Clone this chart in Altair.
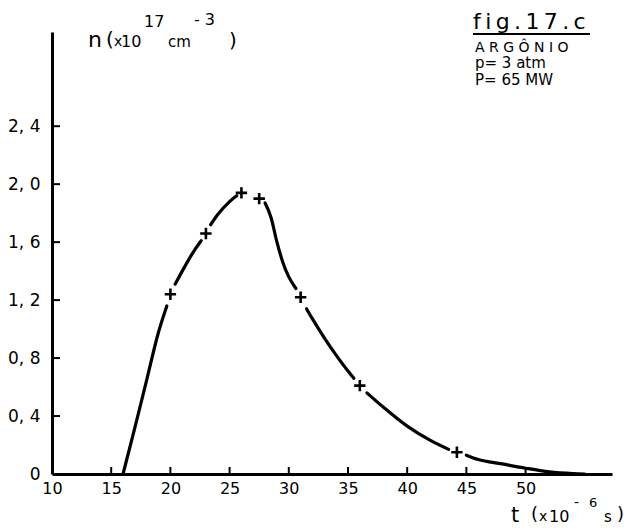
import altair as alt
import pandas as pd

# measured points (+ markers)
pt_t = [20, 23, 26, 27.5, 31, 36, 44.2]
pt_n = [1.24, 1.66, 1.94, 1.90, 1.22, 0.61, 0.15]

# hand-drawn curve, broken into pieces around the markers
curve_t = [16, 17, 18, 19, 19.7,
           20.4, 21, 22, 22.6,
           23.4, 24, 25, 25.6,
           28.0, 28.5, 29, 29.5, 30, 30.6,
           31.5, 32, 33, 34, 35, 35.5,
           36.6, 38, 40, 42, 43.5,
           45, 46, 48, 50, 52, 54, 55]
curve_n = [0, 0.32, 0.65, 0.98, 1.16,
           1.31, 1.40, 1.54, 1.61,
           1.72, 1.79, 1.88, 1.92,
           1.87, 1.77, 1.60, 1.46, 1.36, 1.28,
           1.14, 1.07, 0.94, 0.82, 0.71, 0.66,
           0.56, 0.46, 0.33, 0.23, 0.17,
           0.13, 0.10, 0.07, 0.04, 0.015, 0.003, 0]
curve_seg = [0]*5 + [1]*4 + [2]*4 + [3]*6 + [4]*6 + [5]*5 + [6]*7

x_ticks = [15, 20, 25, 30, 35, 40, 45, 50]
x_labels = [10, 15, 20, 25, 30, 35, 40, 45, 50]
y_ticks = [0.4, 0.8, 1.2, 1.6, 2.0, 2.4]
y_labels = [0, 0.4, 0.8, 1.2, 1.6, 2.0, 2.4]

W, H = 560, 442
L, T = 52, 32
FONT = "DejaVu Sans"
TS = "\u2009"  # thin space

xs = alt.Scale(domain=[10, 57.3], nice=False, zero=False)
ys = alt.Scale(domain=[0, 3.05], nice=False, zero=False)

curve_df = pd.DataFrame({"t": curve_t, "n": curve_n, "seg": curve_seg})
pt_df = pd.DataFrame({"t": pt_t, "n": pt_n})
xt_df = pd.DataFrame({"t": x_ticks})
yt_df = pd.DataFrame({"n": y_ticks})

xaxis = alt.Axis(values=x_labels, ticks=False, grid=False, title=None,
                 domainColor="black", domainWidth=3, labelFont=FONT,
                 labelFontSize=16, labelColor="black", labelPadding=6,
                 labelFlush=False, labelOverlap=False,
                 labelExpr="format(datum.value, 'd')")
yaxis = alt.Axis(values=y_labels, ticks=False, grid=False, title=None,
                 domainColor="black", domainWidth=3, labelFont=FONT,
                 labelFontSize=17, labelColor="black", labelPadding=12,
                 labelFlush=False, labelOverlap=False,
                 labelExpr="datum.value == 0 ? '0' : replace(format(datum.value, '.1f'), '.', ', ')")

line = alt.Chart(curve_df).mark_line(color="black", strokeWidth=3.2,
                                     interpolate="monotone", strokeCap="round").encode(
    x=alt.X("t:Q", scale=xs, axis=xaxis),
    y=alt.Y("n:Q", scale=ys, axis=yaxis),
    detail="seg:N",
)

pts = alt.Chart(pt_df).mark_point(shape="M-1,0L1,0M0,-1L0,1", size=130, filled=False,
                                  color="black", strokeWidth=2.6, opacity=1).encode(
    x=alt.X("t:Q", scale=xs), y=alt.Y("n:Q", scale=ys))

xt = alt.Chart(xt_df).mark_rule(color="black", strokeWidth=2).encode(
    x=alt.X("t:Q", scale=xs), y=alt.value(H), y2=alt.value(H - 7))
yt = alt.Chart(yt_df).mark_rule(color="black", strokeWidth=2).encode(
    y=alt.Y("n:Q", scale=ys), x=alt.value(0), x2=alt.value(8))

dummy = pd.DataFrame({"a": [0]})


def txt(s, px, py, size, **kw):
    return alt.Chart(dummy).mark_text(text=s, font=FONT, fontSize=size, color="black",
                                      align="left", baseline="alphabetic", **kw).encode(
        x=alt.value(px - L), y=alt.value(py - T))


layers = [line, pts, xt, yt,
          # y title
          txt("n", 88, 47, 22),
          txt("(", 106, 46, 20),
          txt("x", 114, 46, 14),
          txt("10", 121, 47, 16),
          txt("17", 144, 27, 16),
          txt("cm", 168, 47, 15),
          txt("- 3", 194, 25, 16),
          txt(")", 229, 47, 20),
          # top-right block
          txt(TS.join("fig.17.c"), 473, 29, 22),
          txt("A R G Ô N I O", 475, 52, 14),
          txt("p= 3  atm", 475, 68, 15),
          txt("P= 65  MW", 475, 85, 15),
          # x title
          txt("t", 511, 522, 21),
          txt("(", 531, 520, 18),
          txt("x", 539, 521, 14),
          txt("10", 549, 522, 16),
          txt("-", 574, 507, 14),
          txt("6", 589, 507, 13),
          txt("s", 604, 522, 15),
          txt(")", 617, 520, 18),
          ]

underline = alt.Chart(dummy).mark_rule(color="black", strokeWidth=1.8).encode(
    x=alt.value(473 - L), x2=alt.value(590 - L), y=alt.value(34 - T))
layers.append(underline)

chart = alt.layer(*layers).properties(
    width=W, height=H,
    padding={"left": L, "top": T, "right": 627 - L - W, "bottom": 530 - T - H},
    autosize=alt.AutoSizeParams(type="none"),
    background="white",
).configure_view(stroke=None)

chart.save("out.html", embed_options={"renderer": "svg", "actions": False})
